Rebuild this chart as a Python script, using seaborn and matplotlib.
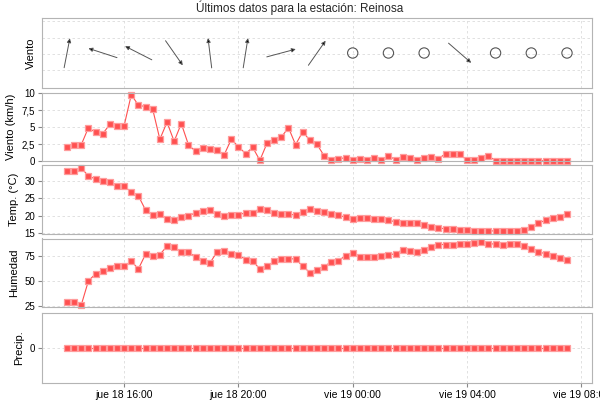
import numpy as np
import pandas as pd
import matplotlib
matplotlib.use("Agg")
import matplotlib.pyplot as plt
import matplotlib.dates as mdates
import matplotlib.transforms as mtransforms
import seaborn as sns

# ---------------- datos ----------------
titulo = "Últimos datos para la estación: Reinosa"
inicio = "2019-07-18 14:00"
paso = "15min"

viento = [2.0, 2.3, 2.4, 4.9, 4.2, 4.0, 5.4, 5.2, 5.2, 9.75,
          8.2, 8.0, 7.6, 3.2, 5.7, 2.9, 5.5, 2.4, 1.4, 1.9,
          1.8, 1.6, 0.9, 3.2, 2.1, 1.1, 2.0, 0.1, 2.6, 3.1,
          3.5, 4.9, 2.4, 4.3, 3.05, 2.45, 0.75, 0.1, 0.3, 0.5,
          0.1, 0.3, 0.2, 0.5, 0.2, 0.75, 0.2, 0.6, 0.4, 0.2,
          0.5, 0.6, 0.3, 1.1, 1.1, 1.0, 0.1, 0.1, 0.5, 0.75,
          0.05, 0.05, 0.05, 0.05, 0.05, 0.05, 0.05, 0.05, 0.05, 0.05,
          0.05]

temperatura = [32.9, 32.9, 33.8, 31.6, 30.6, 30.2, 29.7, 28.7, 28.6, 26.8,
               25.7, 21.6, 20.1, 20.4, 19.1, 18.8, 19.5, 20.0, 20.7, 21.2,
               21.7, 20.4, 20.0, 20.1, 20.2, 20.8, 20.8, 22.0, 21.5, 20.7,
               20.4, 20.3, 20.2, 20.9, 21.8, 21.4, 20.9, 20.4, 20.1, 19.5,
               18.9, 19.4, 19.3, 19.1, 18.9, 18.7, 18.1, 17.7, 17.9, 17.8,
               17.3, 16.7, 16.4, 16.1, 16.0, 15.7, 15.7, 15.5, 15.5, 15.5,
               15.5, 15.4, 15.4, 15.5, 15.9, 16.7, 17.8, 18.6, 19.3, 19.5,
               20.4]

humedad = [29.0, 28.7, 25.7, 49.7, 56.7, 60.0, 63.0, 65.0, 64.3, 69.3,
           61.7, 76.3, 74.3, 76.0, 84.3, 83.3, 78.7, 78.7, 73.3, 69.3,
           67.3, 78.7, 79.3, 76.7, 75.7, 71.0, 69.3, 61.7, 64.3, 69.3,
           71.7, 71.7, 71.7, 64.3, 58.0, 61.0, 64.0, 68.7, 70.0, 74.7,
           77.3, 73.3, 73.3, 74.0, 75.0, 75.3, 77.0, 80.7, 80.0, 79.0,
           81.0, 84.0, 86.0, 86.0, 86.0, 86.7, 86.3, 87.7, 88.3, 87.0,
           86.3, 85.3, 86.7, 86.7, 84.7, 81.3, 78.7, 76.7, 74.7, 73.0,
           70.7]

precipitacion = [0.0] * 71

# dirección de procedencia del viento (grados), una de cada 5 lecturas; None = calma
direccion = [191, 108, 117, 325, 173, 189, 255, 215,
             None, None, None, 311, None, None, None]
cada_dir = 5

dias = ["lun", "mar", "mié", "jue", "vie", "sáb", "dom"]

# ---------------- estilo ----------------
sns.set_style("whitegrid", {
    "grid.color": "#dcdcdc",
    "grid.linestyle": (0, (3, 3)),
    "axes.edgecolor": "#b4b4b4",
    "axes.linewidth": 1.0,
    "xtick.bottom": True,
    "ytick.left": True,
    "xtick.color": "#888888",
    "ytick.color": "#888888",
})
plt.rcParams["font.family"] = ["Liberation Sans", "DejaVu Sans"]
plt.rcParams["grid.linewidth"] = 0.6

horas = pd.date_range(inicio, periods=len(viento), freq=paso)
df = pd.DataFrame({"hora": horas, "viento": viento, "temp": temperatura,
                   "hum": humedad, "precip": precipitacion})

rojo = "#ff5050"
borde = "#ff9c9c"

fig = plt.figure(figsize=(6, 4), dpi=100)
L, W = 42 / 600, 550 / 600
def rect(top, bottom):
    return [L, 1 - bottom / 400, W, (bottom - top) / 400]

ax1 = fig.add_axes(rect(18, 88))
ax2 = fig.add_axes(rect(93, 161), sharex=ax1)
ax3 = fig.add_axes(rect(165.5, 234), sharex=ax1)
ax4 = fig.add_axes(rect(238.5, 307), sharex=ax1)
ax5 = fig.add_axes(rect(313, 383), sharex=ax1)
axes = [ax1, ax2, ax3, ax4, ax5]

span = horas[-1] - horas[0]
xlim = (horas[0] - 0.05 * span, horas[-1] + 0.05 * span)

kw = dict(marker="s", markersize=4.6, markeredgecolor=borde, markeredgewidth=0.9,
          color=rojo, linewidth=0.8, clip_on=False)
sns.lineplot(data=df, x="hora", y="viento", ax=ax2, **kw)
sns.lineplot(data=df, x="hora", y="temp", ax=ax3, **kw)
sns.lineplot(data=df, x="hora", y="hum", ax=ax4, **kw)
sns.lineplot(data=df, x="hora", y="precip", ax=ax5, **kw)

# panel de dirección del viento
ax1.set_ylim(-2.1, 2.2)
ax1.set_yticks([-1, 0, 1, 2])
ax1.tick_params(axis="y", length=0, labelleft=False)
largo = 30  # px
for i, d in enumerate(direccion):
    t = horas[i * cada_dir]
    if d is None:
        ax1.scatter([t], [0.05], s=55, facecolors="none", edgecolors="#555555",
                    linewidths=0.8, zorder=3)
    else:
        b = np.deg2rad(d + 180)
        dx, dy = np.sin(b) * largo / 2, np.cos(b) * largo / 2
        head = mtransforms.offset_copy(ax1.transData, fig=fig, x=dx, y=dy, units="dots")
        tail = mtransforms.offset_copy(ax1.transData, fig=fig, x=-dx, y=-dy, units="dots")
        ax1.annotate("", xy=(mdates.date2num(t), 0.05), xycoords=head,
                     xytext=(mdates.date2num(t), 0.05), textcoords=tail,
                     arrowprops=dict(arrowstyle="-|>", color="#555555", lw=0.7,
                                     mutation_scale=6, shrinkA=0, shrinkB=0,
                                     fc="black", ec="#555555"))

ax2.set_ylim(0, 10)
ax2.set_yticks([0, 2.5, 5, 7.5, 10])
ax2.set_yticklabels(["0", "2,5", "5", "7,5", "10"])
ax3.set_ylim(14.6, 34.6)
ax3.set_yticks([15, 20, 25, 30])
ax4.set_ylim(23.6, 92)
ax4.set_yticks([25, 50, 75])
ax5.set_ylim(-1, 1)
ax5.set_yticks([0])

etiquetas = ["Viento", "Viento (km/h)", "Temp. (°C)", "Humedad", "Precip."]
for ax, lab in zip(axes, etiquetas):
    ax.set_ylabel(lab, fontsize=8, color="black", labelpad=4)
    ax.set_xlabel("")
    ax.tick_params(axis="y", labelsize=7, labelcolor="black", length=3, width=0.8, pad=2)
    ax.grid(True, axis="both")
    for s in ax.spines.values():
        s.set_color("#b4b4b4")
    ax.set_xlim(*xlim)

ax1.tick_params(axis="y", length=0)
for ax in axes[:-1]:
    ax.tick_params(axis="x", labelbottom=False, length=0)

ax5.xaxis.set_major_locator(mdates.HourLocator(byhour=[0, 4, 8, 12, 16, 20]))
def fmt(x, pos=None):
    d = mdates.num2date(x)
    return f"{dias[d.weekday()]} {d.day} {d:%H:%M}"
ax5.xaxis.set_major_formatter(plt.FuncFormatter(fmt))
ax5.tick_params(axis="x", labelsize=7.5, labelcolor="black", length=3, width=0.8, pad=2)

fig.text(0.5, 1 - 8 / 400, titulo, ha="center", va="center", fontsize=8.5)

fig.savefig("out.png", dpi=100)
